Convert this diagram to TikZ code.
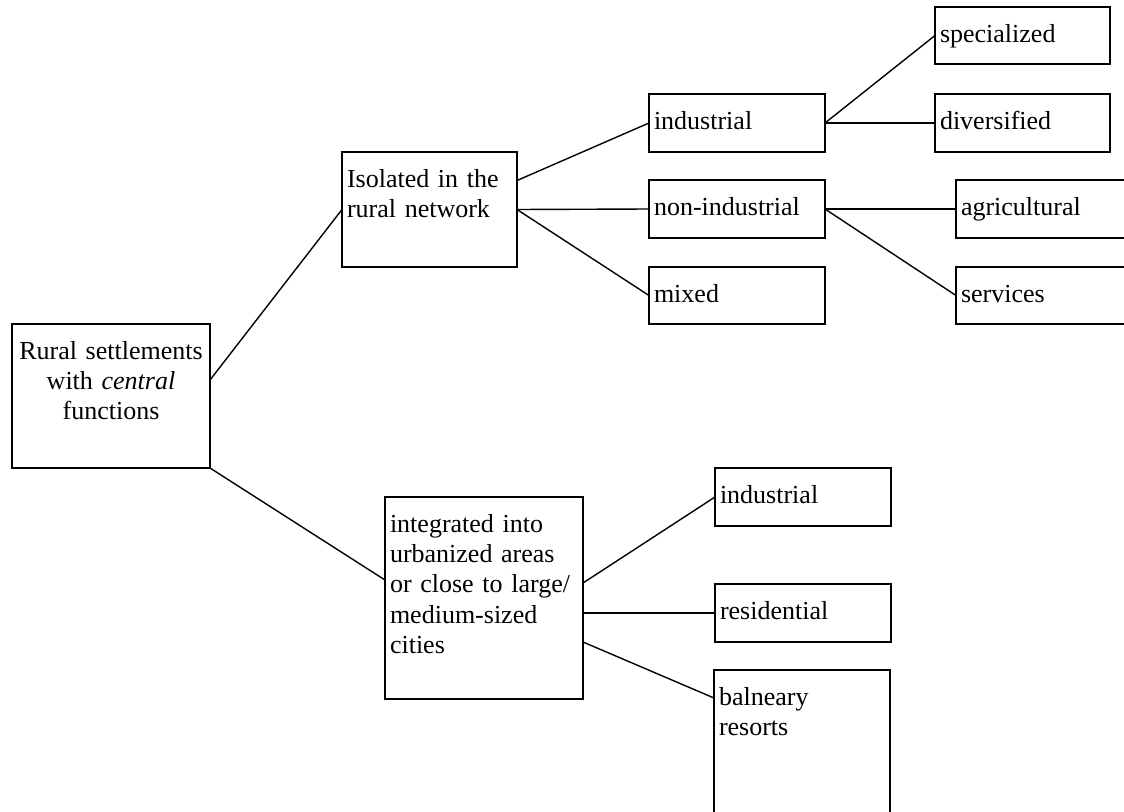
\documentclass[tikz,border=0pt]{standalone}
\usepackage{fontspec}
\setmainfont{Liberation Serif}
\tikzset{
  unit/.style 2 args={draw, line width=1.8pt, anchor=north west, inner xsep=5pt, inner ysep=0pt, outer sep=0pt, text width=#1, text height=35pt, text depth=#2, align=left},
  link/.style={line width=1.4pt},
}
\begin{document}
\begin{tikzpicture}[x=1pt, y=-1pt, font=\fontsize{26}{30.4}\selectfont]
  %%%%% START %%%%%
  \useasboundingbox (0,0) rectangle (1124,811);
  \clip (0,0) rectangle (1124,811);

  \node[unit={188pt}{109pt}, align=center] (root) at (12,324) {Rural settlements\\with \emph{central}\\functions};

  \node[unit={165pt}{80pt}] (iso) at (342,152) {Isolated in the\\rural network};
  \node[unit={166pt}{23pt}] (ind) at (649,94) {industrial};
  \node[unit={166pt}{23pt}] (nonind) at (649,180) {non-industrial};
  \node[unit={166pt}{22pt}] (mixed) at (649,267) {mixed};
  \node[unit={165pt}{22pt}] (spec) at (935,7) {specialized};
  \node[unit={165pt}{23pt}] (div) at (935,94) {diversified};
  \node[unit={165pt}{23pt}] (agri) at (956,180) {agricultural};
  \node[unit={165pt}{22pt}] (serv) at (956,267) {services};

  \node[unit={188pt}{167pt}] (integ) at (385,497) {integrated into\\urbanized areas\\or close to large/\\medium-sized\\cities};
  \node[unit={166pt}{23pt}] (ind2) at (715,468) {industrial};
  \node[unit={166pt}{23pt}] (res) at (715,584) {residential};
  \node[unit={166pt}{125pt}] (baln) at (714,670) {balneary\\resorts};

  \draw[link] ([yshift=16pt]root.east) -- (iso.west);
  \draw[link] (root.south east) -- ([yshift=18pt]integ.west);

  \draw[link] ([yshift=29pt]iso.east) -- (ind.west);
  \draw[link] (iso.east) -- (nonind.west);
  \draw[link] (iso.east) -- (mixed.west);
  \draw[link] (ind.east) -- (spec.west);
  \draw[link] (ind.east) -- (div.west);
  \draw[link] (nonind.east) -- (agri.west);
  \draw[link] (nonind.east) -- (serv.west);

  \draw[link] ([yshift=15pt]integ.east) -- (ind2.west);
  \draw[link] ([yshift=-15pt]integ.east) -- (res.west);
  \draw[link] ([yshift=-44pt]integ.east) -- ([yshift=-28pt]baln.north west);
  %%%%% END %%%%%
\end{tikzpicture}
\end{document}
